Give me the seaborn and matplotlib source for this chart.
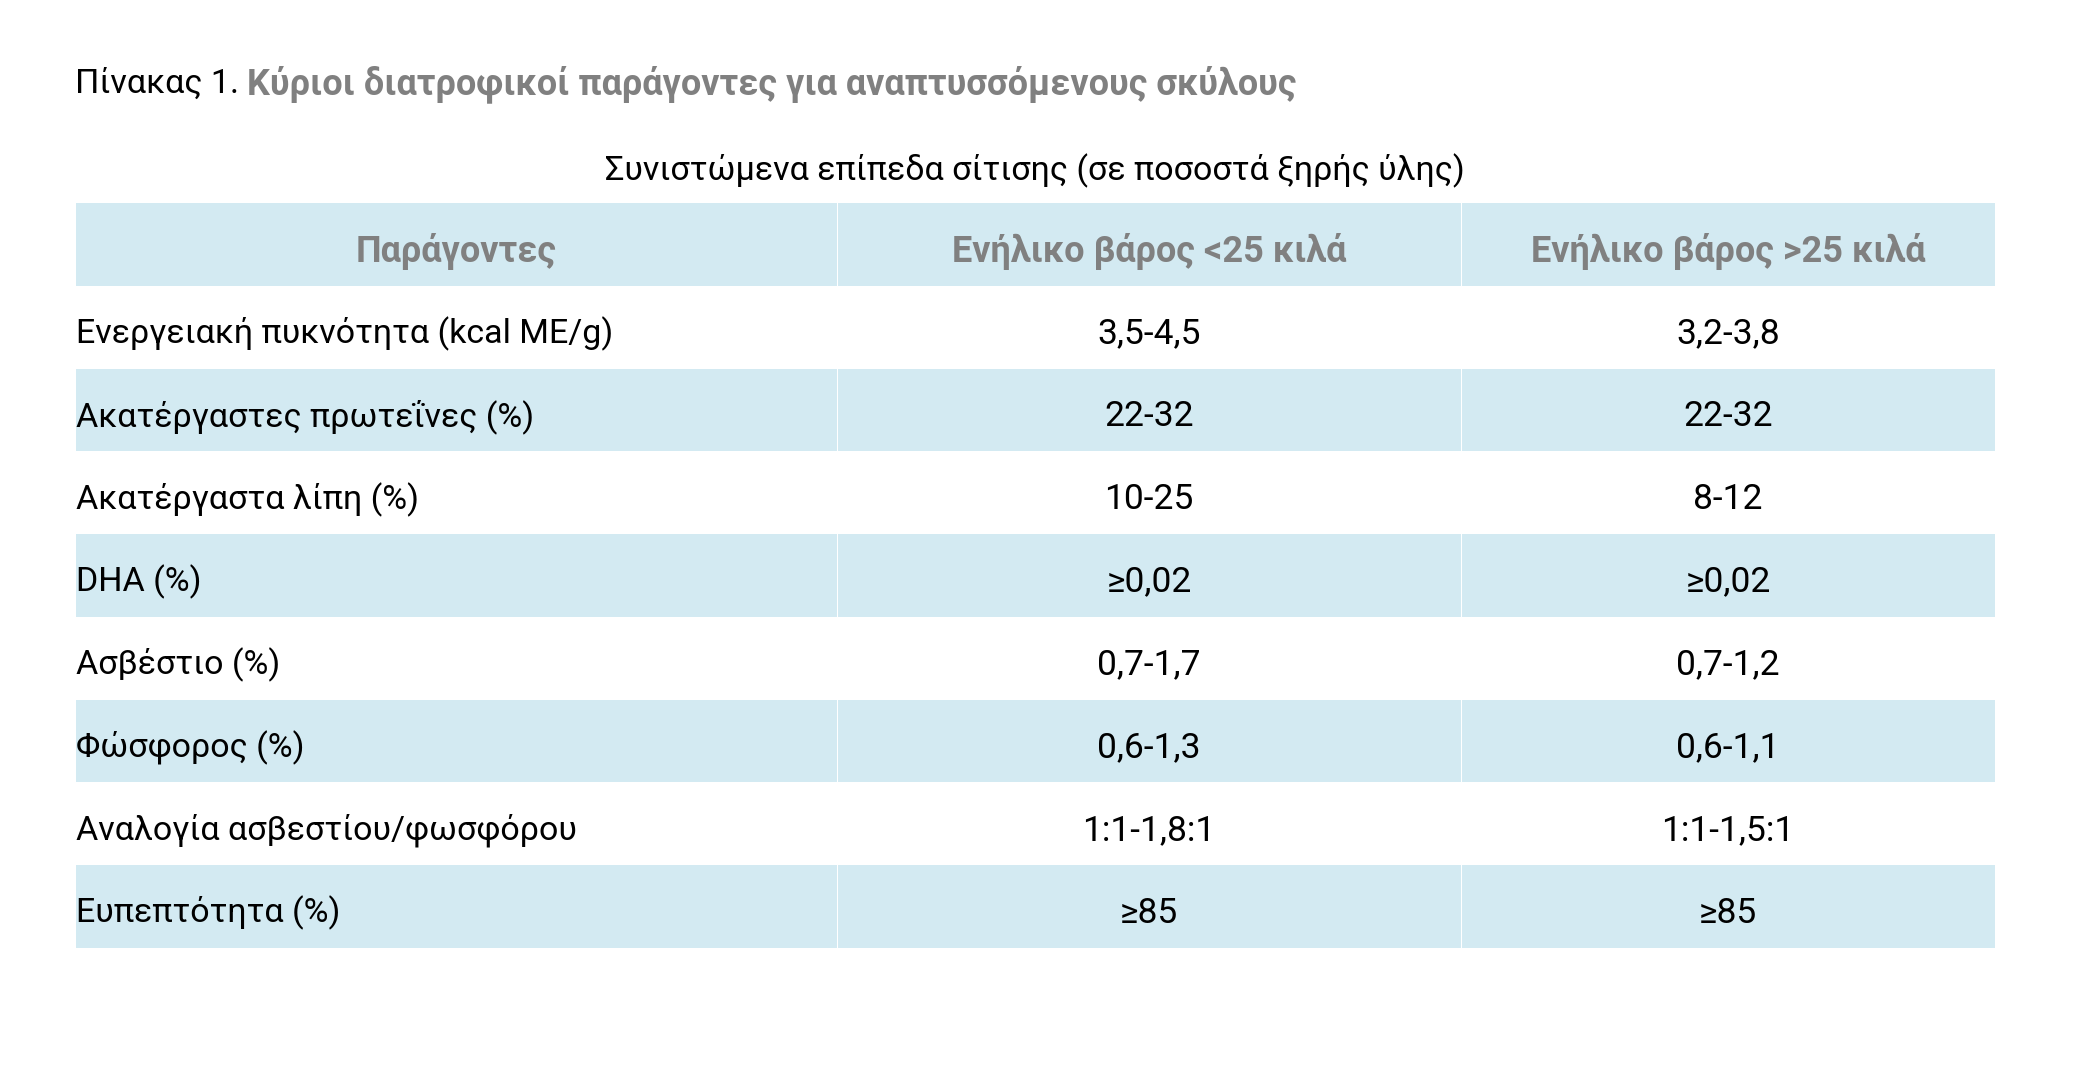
"""
Table 1 - key nutritional factors for growing dogs
===================================================
Draws the reference table as a set of zebra-striped seaborn heatmaps
(one per column) with the cell texts as annotations.

Output: out.png (2089 x 1077 px)
"""

import numpy as np
import matplotlib
matplotlib.use("Agg")
import matplotlib.pyplot as plt
from matplotlib.colors import ListedColormap
import seaborn as sns

# ─────────────────────────────────────────────
# Data
# ─────────────────────────────────────────────
title_prefix = "Πίνακας 1."
title_main = "Κύριοι διατροφικοί παράγοντες για αναπτυσσόμενους σκύλους"
subtitle = "Συνιστώμενα επίπεδα σίτισης (σε ποσοστά ξηρής ύλης)"

headers = ["Παράγοντες", "Ενήλικο βάρος <25 κιλά", "Ενήλικο βάρος >25 κιλά"]

factors = [
    "Ενεργειακή πυκνότητα (kcal ME/g)",
    "Ακατέργαστες πρωτεΐνες (%)",
    "Ακατέργαστα λίπη (%)",
    "DHA (%)",
    "Ασβέστιο (%)",
    "Φώσφορος (%)",
    "Αναλογία ασβεστίου/φωσφόρου",
    "Ευπεπτότητα (%)",
]
small_dogs = ["3,5-4,5", "22-32", "10-25", "≥0,02", "0,7-1,7", "0,6-1,3", "1:1-1,8:1", "≥85"]
large_dogs = ["3,2-3,8", "22-32", "8-12", "≥0,02", "0,7-1,2", "0,6-1,1", "1:1-1,5:1", "≥85"]

# ─────────────────────────────────────────────
# Style / layout (pixels)
# ─────────────────────────────────────────────
FIG_W, FIG_H, DPI = 2089, 1077, 100
TABLE_TOP, TABLE_BOTTOM = 203, 948
COL_EDGES = [75, 837, 1461, 1995]
GAP = 0.5          # thin white divider between columns
TEXT_DROP = 0.08   # texts sit a little below the cell middle (row units)

BAND_BLUE = "#d3eaf2"
HEAD_GRAY = "#808080"
LABEL_SIZE = 24.5   # row labels, subtitle, title prefix
VALUE_SIZE = 25.5   # numbers in the value columns
HEAD_SIZE = 26      # bold grey header / title


def fx(px):
    return px / FIG_W


def fy(px):
    return 1 - px / FIG_H


def draw_column(fig, x0, x1, cells, left_align=False):
    """One table column = one heatmap of a white/blue stripe pattern."""
    ax = fig.add_axes([fx(x0 + GAP), fy(TABLE_BOTTOM),
                       fx(x1 - x0 - 2 * GAP), (TABLE_BOTTOM - TABLE_TOP) / FIG_H])
    zebra = np.array([[1 if i % 2 == 0 else 0] for i in range(len(cells))])
    size = LABEL_SIZE if left_align else VALUE_SIZE
    sns.heatmap(
        zebra, ax=ax,
        cmap=ListedColormap(["white", BAND_BLUE]), vmin=0, vmax=1,
        cbar=False, xticklabels=False, yticklabels=False,
        annot=np.array(cells, dtype=object).reshape(-1, 1), fmt="",
        annot_kws=dict(fontsize=size, color="black"),
    )
    for i, t in enumerate(ax.texts):
        x, y = t.get_position()
        t.set_y(y + TEXT_DROP)
        if i == 0:
            t.set_fontweight("bold")
            t.set_color(HEAD_GRAY)
            t.set_fontsize(HEAD_SIZE)
        elif left_align:
            t.set_x(0)
            t.set_ha("left")
    ax.set_axis_off()
    return ax


def main():
    sns.set_theme(style="white")
    plt.rcParams["font.family"] = ["Roboto", "DejaVu Sans"]

    fig = plt.figure(figsize=(FIG_W / DPI, FIG_H / DPI), dpi=DPI)

    columns = [[headers[0]] + factors,
               [headers[1]] + small_dogs,
               [headers[2]] + large_dogs]
    for c, cells in enumerate(columns):
        draw_column(fig, COL_EDGES[c], COL_EDGES[c + 1], cells, left_align=(c == 0))

    # ── title: regular prefix + bold grey part ──
    t1 = fig.text(fx(COL_EDGES[0]), fy(84), title_prefix, fontsize=LABEL_SIZE,
                  color="black", va="center", ha="left")
    fig.canvas.draw()
    bb = t1.get_window_extent()
    fig.text(bb.x1 / FIG_W + fx(8), fy(84), title_main, fontsize=HEAD_SIZE,
             fontweight="bold", color=HEAD_GRAY, va="center", ha="left")

    fig.text(fx((COL_EDGES[0] + COL_EDGES[-1]) / 2), fy(171), subtitle,
             fontsize=LABEL_SIZE, color="black", va="center", ha="center")

    fig.savefig("out.png", dpi=DPI, facecolor="white")
    plt.close(fig)


if __name__ == "__main__":
    main()
